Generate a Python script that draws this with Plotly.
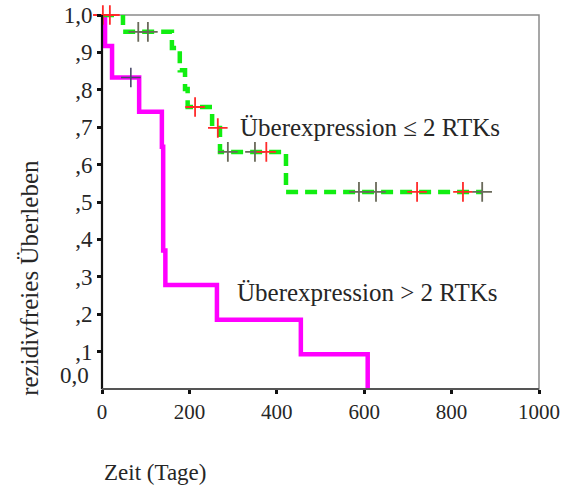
import plotly.graph_objects as go

# Kaplan-Meier step curves (time in days, relapse-free survival)
low_times = [0, 48, 160, 178, 190, 196, 252, 270, 421, 870]
low_surv = [1.0, 0.955, 0.912, 0.852, 0.802, 0.754, 0.698, 0.634, 0.527, 0.527]
low_cens_t = [2, 18, 83, 105, 213, 265, 288, 350, 376, 588, 627, 721, 826, 870]
low_cens_s = [1.0, 1.0, 0.955, 0.955, 0.754, 0.698, 0.634, 0.634, 0.634,
              0.527, 0.527, 0.527, 0.527, 0.527]
low_cens_col = ["#ff2a2a", "#ff2a2a", "#6a6a5a", "#6a6a5a", "#ff2a2a", "#ff2a2a",
                "#6a6a5a", "#6a6a5a", "#ff2a2a", "#6a6a5a", "#6a6a5a", "#ff2a2a",
                "#ff2a2a", "#6a6a5a"]

high_times = [0, 7, 23, 85, 137, 140, 145, 263, 455, 608]
high_surv = [1.0, 0.917, 0.833, 0.741, 0.648, 0.370, 0.278, 0.185, 0.093, 0.0]
high_cens_t = [66]
high_cens_s = [0.833]

x_ticks = [0, 200, 400, 600, 800, 1000]
y_ticks = [0.1, 0.2, 0.3, 0.4, 0.5, 0.6, 0.7, 0.8, 0.9, 1.0]
y_ticktext = [",1", ",2", ",3", ",4", ",5", ",6", ",7", ",8", ",9", "1,0"]

SERIF = "Liberation Serif"
TXT = "#262626"

fig = go.Figure()

fig.add_trace(go.Scatter(
    x=high_times, y=high_surv, mode="lines", line_shape="hv",
    line=dict(color="#ff00ff", width=4.5), showlegend=False, hoverinfo="skip"))

fig.add_trace(go.Scatter(
    x=low_times, y=low_surv, mode="lines", line_shape="hv",
    line=dict(color="#11ee11", width=4.5, dash="12px,7px"),
    showlegend=False, hoverinfo="skip"))

fig.add_trace(go.Scatter(
    x=high_cens_t, y=high_cens_s, mode="markers", cliponaxis=False,
    marker=dict(symbol="cross-thin", size=14,
                line=dict(color="#4a4a6a", width=1.6)),
    showlegend=False, hoverinfo="skip"))

fig.add_trace(go.Scatter(
    x=low_cens_t, y=low_cens_s, mode="markers", cliponaxis=False,
    marker=dict(symbol="cross-thin", size=14,
                line=dict(color=low_cens_col, width=1.8)),
    showlegend=False, hoverinfo="skip"))

# frame: grey top/right, black left, dark bottom
fig.add_shape(type="rect", xref="paper", yref="paper", x0=0, x1=1, y0=0, y1=1,
              line=dict(color="#8a8a8a", width=1.5), layer="below")
fig.add_shape(type="line", xref="paper", yref="paper", x0=0, x1=0, y0=0, y1=1,
              line=dict(color="#111111", width=2.2))
fig.add_shape(type="line", xref="paper", yref="paper", x0=0, x1=1, y0=0, y1=0,
              line=dict(color="#555555", width=2))

fig.add_annotation(x=311, y=0.70, text="Überexpression ≤ 2 RTKs", showarrow=False,
                   xanchor="left", yanchor="middle",
                   font=dict(family=SERIF, size=25, color=TXT))
fig.add_annotation(x=305, y=0.257, text="Überexpression > 2 RTKs", showarrow=False,
                   xanchor="left", yanchor="middle",
                   font=dict(family=SERIF, size=25, color=TXT))
fig.add_annotation(x=0, y=0.035, text="0,0", showarrow=False,
                   xref="x", yref="y", xanchor="right", yanchor="middle", xshift=-11,
                   font=dict(family=SERIF, size=23, color=TXT))
fig.add_annotation(x=0.121, y=-0.222, xref="paper", yref="paper", text="Zeit (Tage)",
                   showarrow=False, xanchor="center", yanchor="middle",
                   font=dict(family=SERIF, size=23, color=TXT))
fig.add_annotation(x=-0.165, y=0.297, xref="paper", yref="paper",
                   text="rezidivfreies Überleben", textangle=-90, showarrow=False,
                   xanchor="center", yanchor="middle",
                   font=dict(family=SERIF, size=25, color=TXT))

fig.update_xaxes(range=[0, 1000], tickvals=x_ticks, ticks="outside", ticklen=4,
                 tickwidth=3, tickcolor="#111111", showgrid=False, zeroline=False,
                 showline=False, automargin=False, ticklabeloverflow="allow",
                 tickfont=dict(family=SERIF, size=21, color=TXT))
fig.update_yaxes(range=[0, 1.0], tickvals=y_ticks, ticktext=y_ticktext,
                 ticks="outside", ticklen=4, tickwidth=3, tickcolor="#111111",
                 showgrid=False, zeroline=False, showline=False, automargin=False,
                 ticklabeloverflow="allow",
                 tickfont=dict(family=SERIF, size=23, color=TXT))

fig.update_layout(
    width=561, height=486,
    margin=dict(l=102, r=22, t=15, b=97),
    plot_bgcolor="white", paper_bgcolor="white",
)

fig.write_html("out.html")
